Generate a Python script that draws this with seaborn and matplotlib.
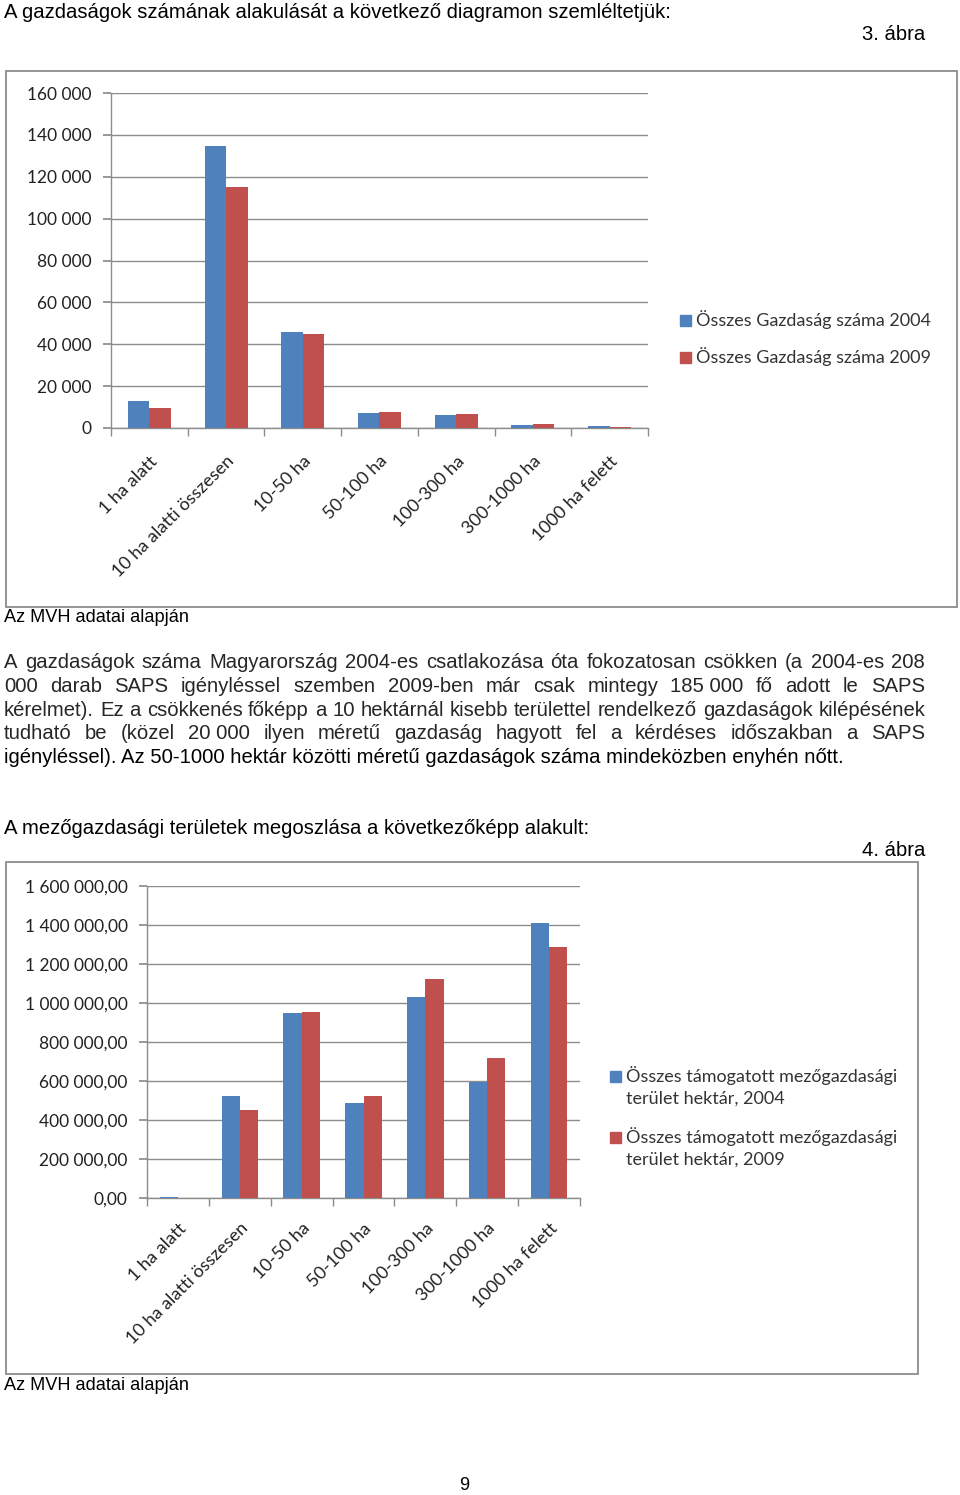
import pandas as pd
import numpy as np
import seaborn as sns
import matplotlib.pyplot as plt
from matplotlib.patches import Rectangle
from matplotlib.ticker import FixedLocator, FuncFormatter

W, H = 960, 1495
BLUE = '#4F81BD'
RED = '#C0504D'
GRID = '#8C8C8C'

categories = ['1 ha alatt', '10 ha alatti összesen', '10-50 ha', '50-100 ha',
              '100-300 ha', '300-1000 ha', '1000 ha felett']

# 3. ábra - gazdaságok száma
farms_2004 = [13000, 134800, 45800, 7000, 6000, 1300, 800]
farms_2009 = [9400, 115000, 44900, 7500, 6900, 1900, 700]
farm_labels = ['Összes Gazdaság száma 2004', 'Összes Gazdaság száma 2009']

# 4. ábra - támogatott terület (ha)
area_2004 = [3000, 524800, 950400, 485500, 1030800, 596600, 1412000]
area_2009 = [2500, 451300, 955600, 524800, 1121400, 719700, 1285500]
area_labels = ['Összes támogatott mezőgazdasági\nterület hektár, 2004',
               'Összes támogatott mezőgazdasági\nterület hektár, 2009']

intro1 = 'A gazdaságok számának alakulását a következő diagramon szemléltetjük:'
intro2 = 'A mezőgazdasági területek megoszlása a következőképp alakult:'
source = 'Az MVH adatai alapján'
para = [
    'A gazdaságok száma Magyarország 2004-es csatlakozása óta fokozatosan csökken (a 2004-es 208',
    '000 darab SAPS igényléssel szemben 2009-ben már csak mintegy 185\u00a0000 fő adott le SAPS',
    'kérelmet). Ez a csökkenés főképp a 10 hektárnál kisebb területtel rendelkező gazdaságok kilépésének',
    'tudható be (közel 20\u00a0000 ilyen méretű gazdaság hagyott fel a kérdéses időszakban a SAPS',
    'igényléssel). Az 50-1000 hektár közötti méretű gazdaságok száma mindeközben enyhén nőtt.',
]

sns.set_theme(style='white')
plt.rcParams['font.family'] = ['Liberation Sans', 'DejaVu Sans']
BODY = 14.6
SMALL = 13.1
CHART_FONT = ['Lato', 'DejaVu Sans']

fig = plt.figure(figsize=(W / 100, H / 100), dpi=100)
fig.patch.set_facecolor('white')


def fx(x):
    return x / W


def fy(y):
    return 1 - y / H


def page_text(x, y, s, ha='left', size=BODY):
    fig.text(fx(x), fy(y), s, ha=ha, va='center', fontsize=size, color='black')


def justified(lines, x0, x1, y0, step):
    renderer = fig.canvas.get_renderer()
    for i, line in enumerate(lines):
        y = y0 + i * step
        words = line.split(' ')
        if i == len(lines) - 1:
            page_text(x0, y, line)
            continue
        objs = [fig.text(0, fy(y), w, ha='left', va='center', fontsize=BODY) for w in words]
        widths = [t.get_window_extent(renderer).width for t in objs]
        gap = (x1 - x0 - sum(widths)) / (len(words) - 1)
        x = x0
        for t, wd in zip(objs, widths):
            t.set_x(fx(x))
            x += wd + gap


def box(x0, y0, x1, y1):
    fig.patches.append(Rectangle((fx(x0), fy(y1)), fx(x1 - x0), (y1 - y0) / H,
                                 transform=fig.transFigure, fill=False,
                                 edgecolor=GRID, linewidth=1.3))


def legend(x, ys, labels, colors, size):
    for y, lab, col in zip(ys, labels, colors):
        fig.patches.append(Rectangle((fx(x), fy(y + 6)), fx(11), 11 / H,
                                     transform=fig.transFigure, color=col))
        fig.text(fx(x + 16), fy(y - 10), lab, ha='left', va='top', fontsize=size,
                 family=CHART_FONT, color='#333333', linespacing=1.45)


def chart(rect, v04, v09, ymax, step, fmt, width, pad):
    ax = fig.add_axes([fx(rect[0]), fy(rect[3]), fx(rect[2] - rect[0]), (rect[3] - rect[1]) / H])
    df = pd.DataFrame({
        'cat': categories * 2,
        'val': list(v04) + list(v09),
        'year': ['2004'] * len(categories) + ['2009'] * len(categories),
    })
    sns.barplot(data=df, x='cat', y='val', hue='year', palette=[BLUE, RED],
                width=width, saturation=1, linewidth=0, legend=False, ax=ax, zorder=3)
    ax.set_xlim(-0.5, len(categories) - 0.5)
    ax.set_ylim(0, ymax)
    ax.set_yticks(np.arange(0, ymax + 1, step))
    ax.yaxis.set_major_formatter(FuncFormatter(fmt))
    ax.grid(axis='y', color=GRID, linewidth=1)
    ax.set_axisbelow(True)
    ax.set_xlabel('')
    ax.set_ylabel('')
    for s in ['top', 'right']:
        ax.spines[s].set_visible(False)
    for s in ['left', 'bottom']:
        ax.spines[s].set_color(GRID)
        ax.spines[s].set_linewidth(1)
    ax.xaxis.set_minor_locator(FixedLocator(np.arange(-0.5, len(categories), 1)))
    ax.tick_params(axis='x', which='major', length=0, pad=pad)
    ax.tick_params(axis='x', which='minor', length=6, color=GRID, direction='out', bottom=True)
    ax.tick_params(axis='y', length=6, color=GRID, direction='out', left=True, pad=8)
    for lab in ax.get_xticklabels():
        lab.set_rotation(45)
        lab.set_ha('right')
        lab.set_va('top')
        lab.set_rotation_mode('anchor')
        lab.set_fontsize(13)
        lab.set_family(CHART_FONT)
        lab.set_color('#222222')
    for lab in ax.get_yticklabels():
        lab.set_fontsize(12.5)
        lab.set_family(CHART_FONT)
        lab.set_color('#222222')
    return ax


def thousands(v, pos):
    return f'{int(v):,}'.replace(',', ' ')


def thousands_dec(v, pos):
    return f'{int(v):,}'.replace(',', ' ') + ',00'


# page texts
page_text(4, 12, intro1)
page_text(925, 35, '3. ábra', ha='right')
box(6, 71, 957, 607)
chart((111, 93, 648, 428), farms_2004, farms_2009, 160000, 20000, thousands, 0.56, 18)
legend(680, [320, 357], farm_labels, [BLUE, RED], 13)
page_text(4, 618, source, size=SMALL)

justified(para, 4, 925, 663, 23.5)

page_text(4, 828, intro2)
page_text(925, 851, '4. ábra', ha='right')
box(6, 862, 918, 1374)
chart((147, 886, 580, 1198), area_2004, area_2009, 1600000, 200000, thousands_dec, 0.59, 16)
legend(610, [1076, 1137], area_labels, [BLUE, RED], 13)
page_text(4, 1386, source, size=SMALL)
page_text(464, 1485, '9', ha='center', size=SMALL)

fig.savefig('out.png', dpi=100, facecolor='white')
